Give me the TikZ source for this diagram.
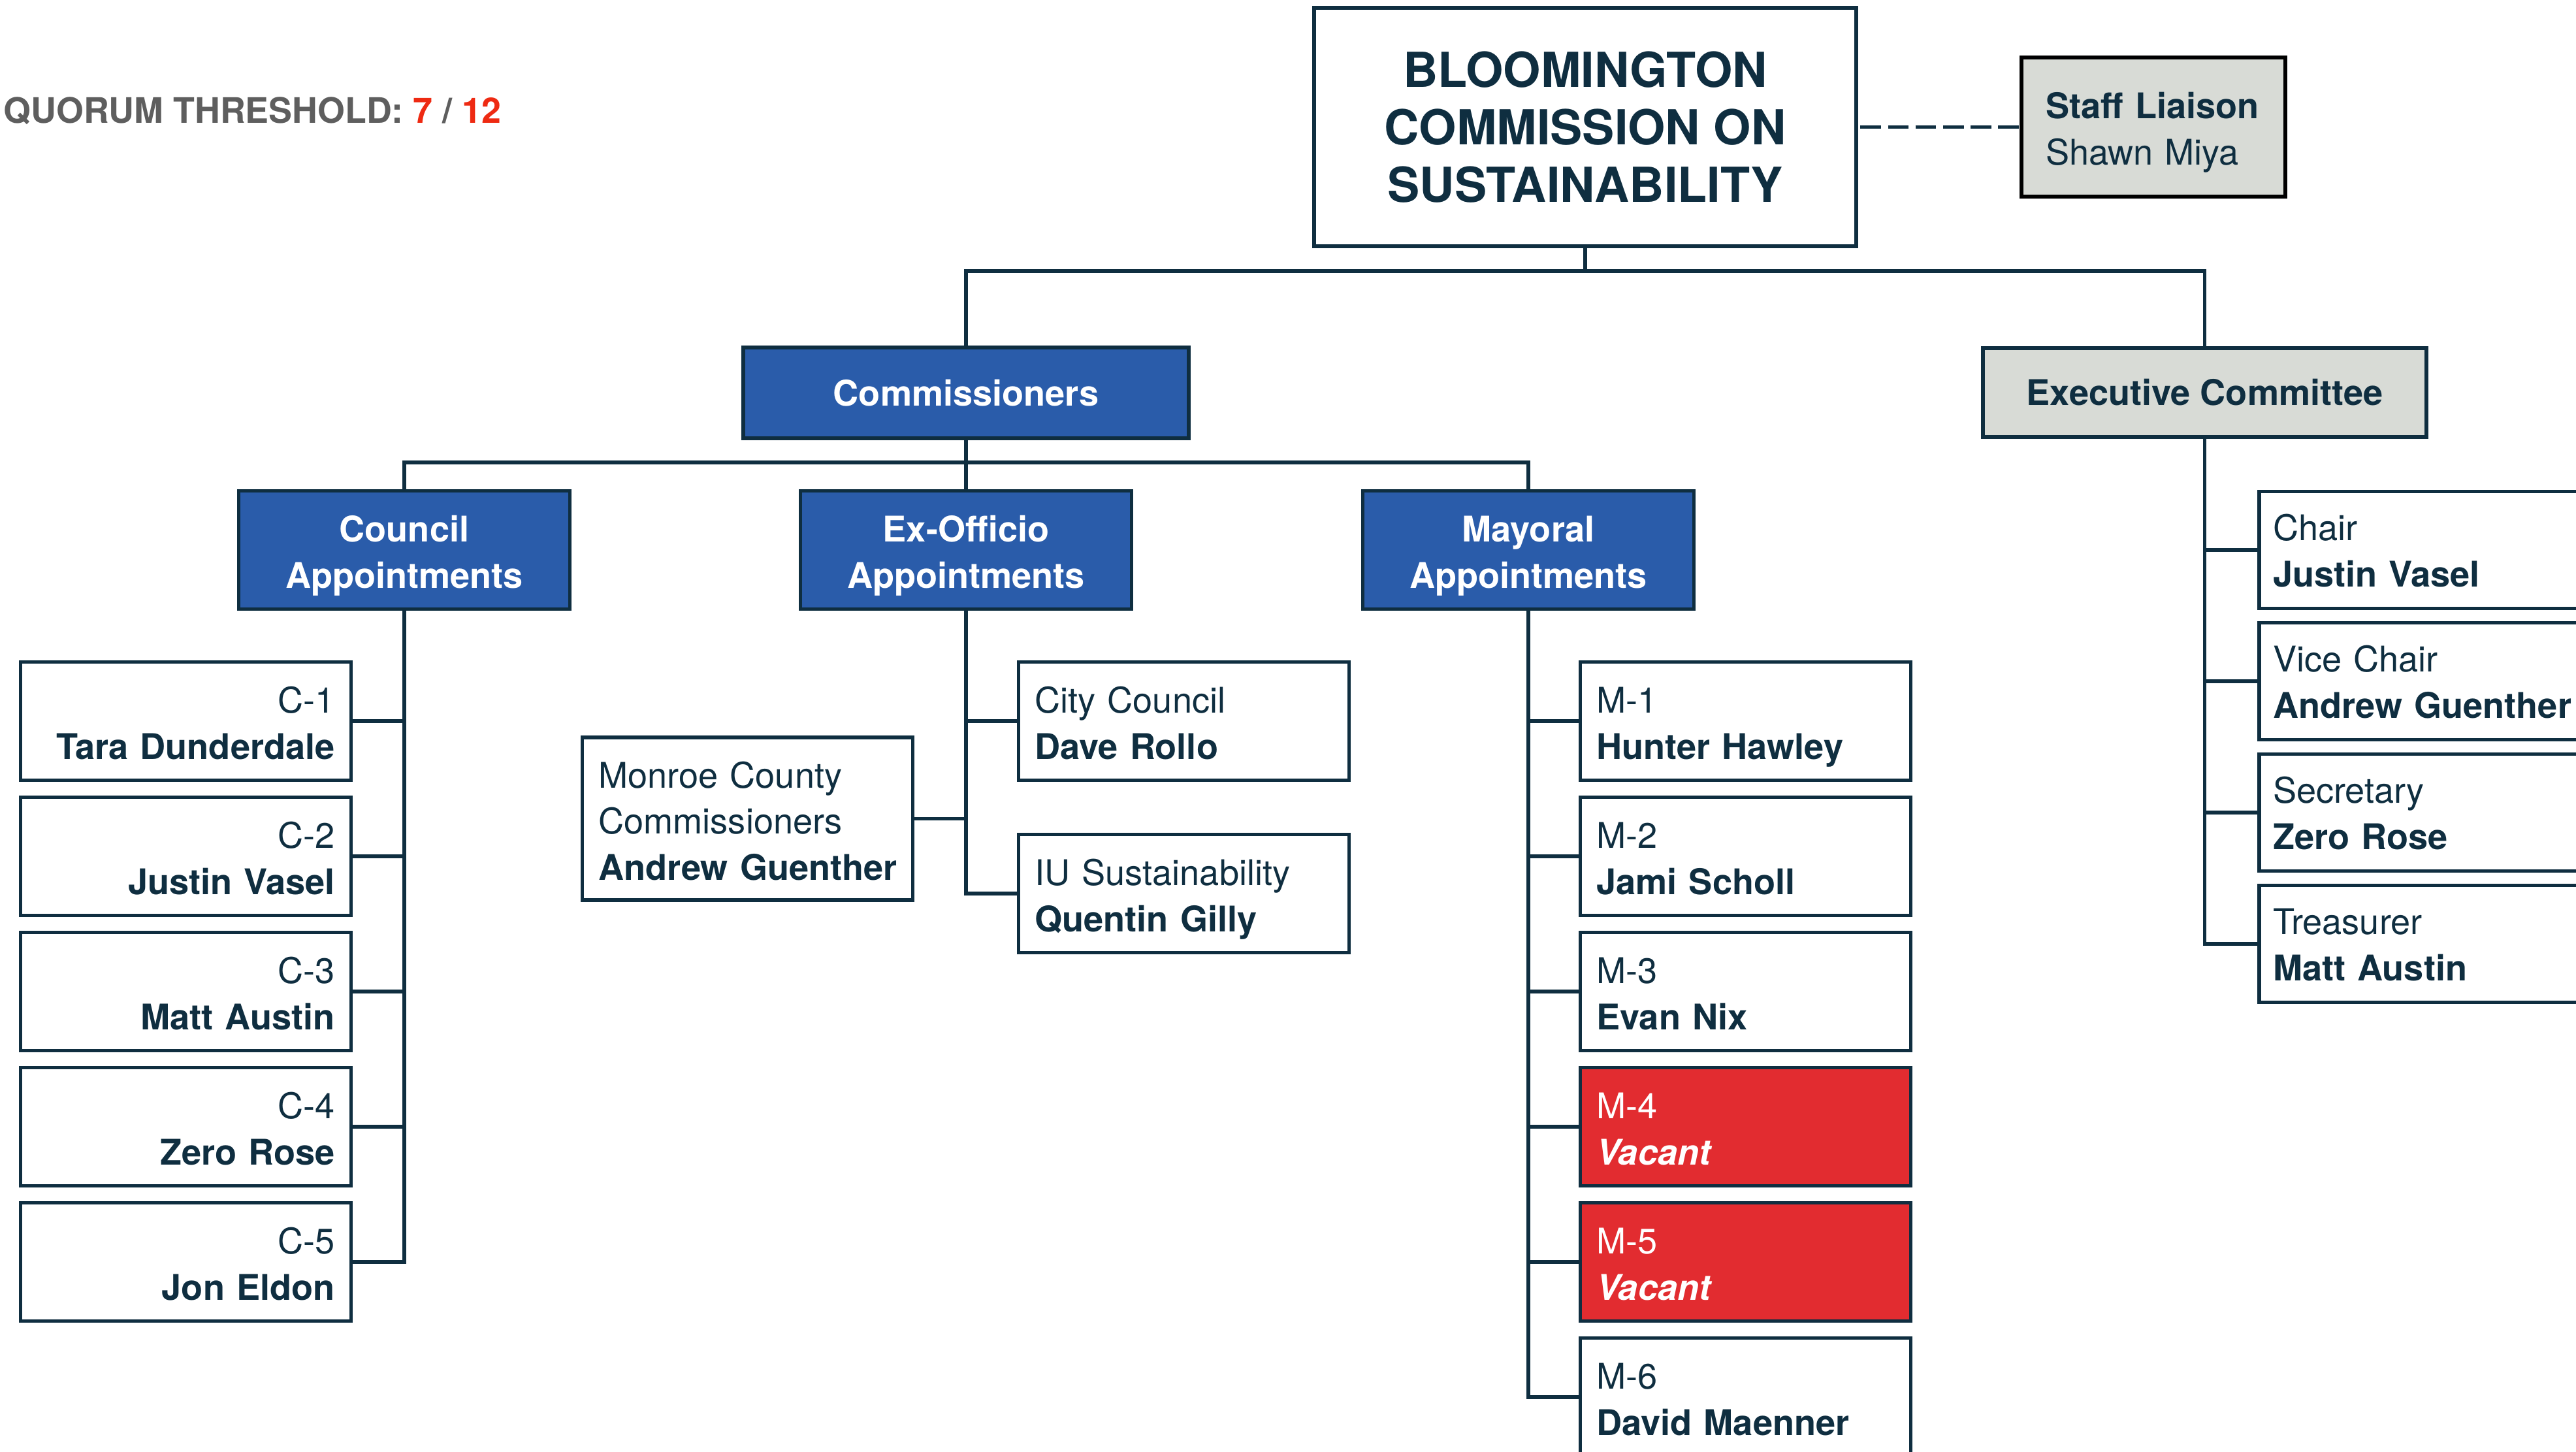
\documentclass[tikz,border=0pt]{standalone}
\usepackage{fontspec}
\setmainfont{TeX Gyre Heros}
\definecolor{navy}{HTML}{0F2E40}
\definecolor{unitblue}{HTML}{2A5CAA}
\definecolor{panelgray}{HTML}{D8DBD6}
\definecolor{vacantred}{HTML}{E22C30}
\definecolor{quorumgray}{HTML}{5E5E5E}
\definecolor{quorumred}{HTML}{EE2A12}

\begin{document}
\begin{tikzpicture}[
    every node/.style={font=\fontsize{15.4}{20}\selectfont, text=navy},
    unit/.style={rectangle, draw=navy, line width=1.6pt, fill=unitblue,
                 text=white, font=\fontsize{15.4}{20}\selectfont\bfseries,
                 minimum width=5.07cm, minimum height=1.81cm,
                 inner sep=0pt, align=center},
    twoline/.style={text height=33pt, text depth=0pt},
    seat/.style={rectangle, draw=navy, line width=1.6pt, fill=white,
                 minimum width=5.06cm, minimum height=1.81cm,
                 text width=4.56cm, inner sep=0pt, align=left,
                 text height=12pt, text depth=19pt},
    seatright/.style={seat, align=right},
    vacant/.style={seat, fill=vacantred, text=white},
    officer/.style={seat, minimum width=6cm, text width=5.58cm,
                    minimum height=1.79cm, text depth=20pt},
    link/.style={draw=navy, line width=1.6pt},
    ]
\clip (0,0) rectangle (39.44,-22.22);

\node[anchor=base west, inner sep=0pt, text=quorumgray, font=\fontsize{15.3}{20}\selectfont\bfseries]
    (quorum) at (0.05,-1.88) {QUORUM THRESHOLD: \textcolor{quorumred}{7} / \textcolor{quorumred}{12}};

% top of the chart
\node[rectangle, draw=navy, line width=1.6pt, minimum width=8.3cm, minimum height=3.65cm,
      font=\fontsize{21}{25}\selectfont\bfseries, align=center]
    (title) at (24.27,-1.945) {BLOOMINGTON\\COMMISSION ON\\SUSTAINABILITY};
\node[rectangle, draw=black, line width=1.7pt, fill=panelgray,
      minimum width=4.04cm, minimum height=2.13cm, text width=3.3cm, inner sep=0pt, align=left,
      text height=12pt, text depth=19.2pt]
    (staff) at (32.97,-1.945) {\textbf{Staff Liaison}\\Shawn Miya};

\node[unit, minimum width=6.82cm, minimum height=1.39cm] (comm) at (14.79,-6.015) {Commissioners};
\node[unit, minimum width=6.79cm, minimum height=1.36cm, fill=panelgray, text=navy]
    (exec) at (33.755,-6.01) {Executive Committee};

\node[unit, twoline] (council) at (6.19,-8.42) {Council\\Appointments};
\node[unit, twoline] (exoff) at (14.79,-8.42) {Ex-Officio\\Appointments};
\node[unit, twoline] (mayor) at (23.40,-8.42) {Mayoral\\Appointments};

% council seats
\node[seatright] (c1) at (2.845,-11.04) {C-1\\\textbf{Tara Dunderdale}};
\node[seatright] (c2) at (2.845,-13.11) {C-2\\\textbf{Justin Vasel}};
\node[seatright] (c3) at (2.845,-15.18) {C-3\\\textbf{Matt Austin}};
\node[seatright] (c4) at (2.845,-17.25) {C-4\\\textbf{Zero Rose}};
\node[seatright] (c5) at (2.845,-19.32) {C-5\\\textbf{Jon Eldon}};

% ex-officio seats
\node[seat] (city) at (18.125,-11.04) {City Council\\\textbf{Dave Rollo}};
\node[seat] (iu) at (18.125,-13.68) {IU Sustainability\\\textbf{Quentin Gilly}};
\node[seat, minimum height=2.49cm, text depth=38.8pt] (monroe) at (11.445,-12.535)
    {Monroe County\\Commissioners\\\textbf{\mbox{Andrew Guenther}}};

% mayoral seats
\node[seat] (m1) at (26.725,-11.04) {M-1\\\textbf{Hunter Hawley}};
\node[seat] (m2) at (26.725,-13.11) {M-2\\\textbf{Jami Scholl}};
\node[seat] (m3) at (26.725,-15.18) {M-3\\\textbf{Evan Nix}};
\node[vacant] (m4) at (26.725,-17.25) {M-4\\\textbf{\itshape Vacant}};
\node[vacant] (m5) at (26.725,-19.32) {M-5\\\textbf{\itshape Vacant}};
\node[seat] (m6) at (26.725,-21.39) {M-6\\\textbf{David Maenner}};

% executive officers
\node[officer] (chair) at (37.59,-8.42) {Chair\\\textbf{Justin Vasel}};
\node[officer] (vice) at (37.59,-10.43) {Vice Chair\\\textbf{Andrew Guenther}};
\node[officer] (secretary) at (37.59,-12.44) {Secretary\\\textbf{Zero Rose}};
\node[officer] (treasurer) at (37.59,-14.45) {Treasurer\\\textbf{Matt Austin}};

% connectors
\coordinate (bus) at (24.27,-4.15);
\coordinate (split) at (14.79,-7.08);
\draw[link, dashed, dash pattern=on 9pt off 3pt] ([xshift=1pt]title.east) -- (staff.west);
\draw[link] (title.south) -- (bus);
\draw[link] (comm.north) |- (bus) -| (exec.north);
\draw[link] (comm.south) -- (exoff.north);
\draw[link] (council.north) |- (split) -| (mayor.north);

\draw[link] (council.south) |- (c1.east);
\draw[link] (council.south) |- (c2.east);
\draw[link] (council.south) |- (c3.east);
\draw[link] (council.south) |- (c4.east);
\draw[link] (council.south) |- (c5.east);

\draw[link] (exoff.south) |- (city.west);
\draw[link] (exoff.south) |- (iu.west);
\draw[link] (monroe.east) -- (monroe.east -| exoff.south);

\draw[link] (mayor.south) |- (m1.west);
\draw[link] (mayor.south) |- (m2.west);
\draw[link] (mayor.south) |- (m3.west);
\draw[link] (mayor.south) |- (m4.west);
\draw[link] (mayor.south) |- (m5.west);
\draw[link] (mayor.south) |- (m6.west);

\draw[link] (exec.south) |- (chair.west);
\draw[link] (exec.south) |- (vice.west);
\draw[link] (exec.south) |- (secretary.west);
\draw[link] (exec.south) |- (treasurer.west);
\end{tikzpicture}
\end{document}
